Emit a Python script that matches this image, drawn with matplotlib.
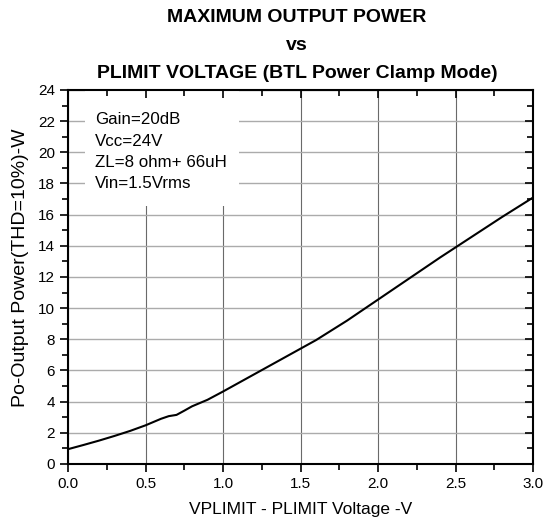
import matplotlib
matplotlib.use("Agg")
import matplotlib.pyplot as plt
from matplotlib.ticker import MultipleLocator, FormatStrFormatter
from matplotlib.patches import Rectangle

plt.rcParams['font.family'] = ['Liberation Sans', 'DejaVu Sans']

vplimit = [0.0, 0.1, 0.2, 0.3, 0.4, 0.5, 0.6, 0.65, 0.7, 0.75, 0.8, 0.9, 1.0,
           1.2, 1.4, 1.5, 1.6, 1.8, 2.0, 2.2, 2.4, 2.5, 2.6, 2.8, 3.0]
power = [0.95, 1.22, 1.5, 1.8, 2.12, 2.48, 2.9, 3.07, 3.15, 3.42, 3.7, 4.12, 4.65,
         5.75, 6.85, 7.4, 7.95, 9.2, 10.55, 11.9, 13.25, 13.9, 14.55, 15.85, 17.1]

title_lines = ["MAXIMUM OUTPUT POWER", "vs", "PLIMIT VOLTAGE (BTL Power Clamp Mode)"]
notes = ["Gain=20dB", "Vcc=24V", "ZL=8 ohm+ 66uH", "Vin=1.5Vrms"]
xlabel = "VPLIMIT - PLIMIT Voltage -V"
ylabel = "Po-Output Power(THD=10%)-W"

fig = plt.figure(figsize=(5.55, 5.19), dpi=100)
ax = fig.add_axes([0.1225, 0.106, 0.838, 0.7206])
ax.set_axisbelow(True)

ax.plot(vplimit, power, color='black', lw=1.5, zorder=3)
ax.set_xlim(0, 3.0)
ax.set_ylim(0, 24)
ax.xaxis.set_major_locator(MultipleLocator(0.5))
ax.xaxis.set_minor_locator(MultipleLocator(0.25))
ax.yaxis.set_major_locator(MultipleLocator(2))
ax.yaxis.set_minor_locator(MultipleLocator(1))
ax.xaxis.set_major_formatter(FormatStrFormatter('%.1f'))
ax.xaxis.grid(True, which='major', color='#6a6a6a', lw=0.8)
ax.yaxis.grid(True, which='major', color='#ababab', lw=1.0)

for s in ax.spines.values():
    s.set_linewidth(1.5)

ax.tick_params(which='both', direction='out', top=False, right=False,
               labelsize=11, width=1.2)
ax.tick_params(which='major', length=6)
ax.tick_params(which='minor', length=4)

sec_top = ax.secondary_xaxis('top')
sec_top.xaxis.set_major_locator(MultipleLocator(0.5))
sec_top.xaxis.set_minor_locator(MultipleLocator(0.25))
sec_top.tick_params(which='both', direction='in', labeltop=False, width=1.2)
sec_top.tick_params(which='major', length=6)
sec_top.tick_params(which='minor', length=4)
sec_top.spines['top'].set_visible(False)
sec_top.set_zorder(5)

sec_right = ax.secondary_yaxis('right')
sec_right.yaxis.set_major_locator(MultipleLocator(2))
sec_right.yaxis.set_minor_locator(MultipleLocator(1))
sec_right.tick_params(which='both', direction='in', labelright=False, width=1.2)
sec_right.tick_params(which='major', length=6)
sec_right.tick_params(which='minor', length=4)
sec_right.spines['right'].set_visible(False)
sec_right.set_zorder(5)

ax.set_xlabel(xlabel, fontsize=12.5, labelpad=8)
ax.set_ylabel(ylabel, fontsize=14)
ax.yaxis.set_label_coords(-0.083, 0.525)

ax.add_patch(Rectangle((0.037, 0.69), 0.33, 0.31, transform=ax.transAxes,
                       facecolor='white', edgecolor='none', zorder=1))
ax.text(0.058, 0.94, "\n".join(notes), transform=ax.transAxes, fontsize=12.2,
        va='top', ha='left', linespacing=1.52, zorder=4)

for i, t in enumerate(title_lines):
    fig.text(0.535, 1 - (18 + 27.5 * i) / 519, t, ha='center', va='center',
             fontsize=14, fontweight='bold')

fig.savefig("out.png", dpi=100)
